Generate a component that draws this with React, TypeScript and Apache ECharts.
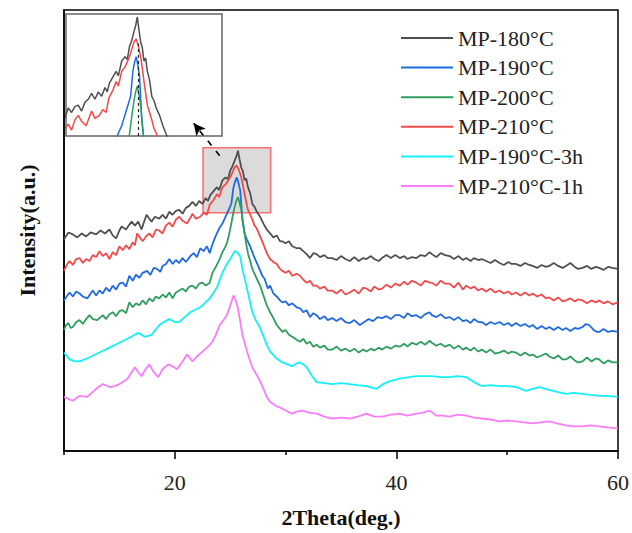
import React, { useEffect, useRef } from "react";
import * as echarts from "echarts";

// 2Theta (deg.) vs intensity (a.u., stacked offsets as drawn)
const mp180: number[][] = [
  [10.0, 215], [10.4, 222], [10.8, 220], [11.2, 217], [11.6, 221], [12.0, 218], [12.4, 222], [12.9, 220], [13.3, 224], [13.7, 221],
  [14.1, 225], [14.4, 219], [14.7, 216], [15.0, 224], [15.2, 228], [15.6, 225], [15.9, 230], [16.1, 233], [16.4, 229], [16.7, 233],
  [17.0, 225], [17.2, 232], [17.45, 240], [17.7, 236], [17.9, 233], [18.2, 238], [18.6, 236], [18.9, 240], [19.2, 236], [19.5, 243],
  [19.8, 240], [20.1, 244], [20.4, 245], [20.7, 241], [21.0, 247], [21.3, 249], [21.6, 253], [21.9, 249], [22.2, 254], [22.5, 251],
  [22.8, 257], [23.0, 254], [23.2, 260], [23.5, 264], [23.8, 268], [24.0, 265], [24.3, 275], [24.6, 278], [24.8, 276], [25.0, 285],
  [25.2, 289], [25.4, 295], [25.55, 299], [25.7, 305], [25.85, 296], [26.0, 288], [26.15, 284], [26.3, 275], [26.45, 277], [26.6, 268],
  [26.8, 262], [27.0, 251], [27.2, 248], [27.4, 243], [27.7, 238], [28.0, 231], [28.3, 225], [28.6, 221], [28.9, 217], [29.2, 219],
  [29.5, 213], [29.7, 213], [30.0, 211], [30.3, 213], [30.6, 208], [31.0, 206], [31.3, 206], [31.6, 203], [31.9, 200], [32.2, 196],
  [32.5, 201], [32.8, 200], [33.1, 197], [33.5, 199], [33.8, 196], [34.2, 196], [34.6, 194], [35.0, 198], [35.4, 195], [35.8, 193],
  [36.2, 197], [36.6, 193], [37.0, 196], [37.3, 195], [37.7, 198], [38.0, 195], [38.4, 193], [38.7, 196], [39.1, 199], [39.5, 196],
  [39.9, 199], [40.3, 196], [40.7, 198], [41.0, 195], [41.4, 197], [41.8, 196], [42.2, 199], [42.6, 198], [43.0, 202], [43.2, 200],
  [43.6, 197], [44.0, 201], [44.4, 199], [44.8, 198], [45.2, 195], [45.6, 198], [46.0, 194], [46.3, 196], [46.7, 193], [47.0, 196],
  [47.4, 194], [47.7, 195], [48.1, 193], [48.5, 191], [48.9, 194], [49.3, 191], [49.7, 189], [50.1, 192], [50.4, 190], [50.8, 190],
  [51.2, 188], [51.6, 191], [52.0, 189], [52.3, 188], [52.7, 186], [53.1, 189], [53.5, 187], [53.8, 188], [54.2, 191], [54.6, 188],
  [55.0, 186], [55.3, 188], [55.7, 191], [56.1, 187], [56.4, 185], [56.8, 186], [57.2, 188], [57.6, 185], [58.0, 187], [58.3, 186],
  [58.7, 184], [59.1, 187], [59.5, 186], [60.0, 185],
];

const mp190: number[][] = [
  [10.0, 153], [10.3, 158], [10.5, 161], [10.8, 157], [11.1, 162], [11.4, 160], [11.7, 157], [12.1, 155], [12.4, 160], [12.6, 163],
  [12.9, 158], [13.2, 163], [13.5, 160], [13.8, 166], [14.1, 162], [14.4, 168], [14.7, 164], [15.0, 170], [15.3, 171], [15.6, 167],
  [15.9, 178], [16.2, 173], [16.5, 179], [16.8, 176], [17.1, 181], [17.5, 183], [17.8, 179], [18.1, 186], [18.4, 185], [18.7, 182],
  [18.9, 188], [19.2, 190], [19.5, 195], [19.8, 190], [20.1, 194], [20.4, 191], [20.7, 196], [21.0, 192], [21.4, 198], [21.7, 201],
  [22.0, 197], [22.3, 206], [22.6, 203], [22.9, 208], [23.15, 201], [23.4, 210], [23.6, 216], [23.8, 221], [24.0, 226], [24.3, 231],
  [24.5, 236], [24.7, 241], [24.9, 246], [25.1, 251], [25.3, 268], [25.45, 274], [25.6, 278], [25.75, 272], [25.9, 265], [26.0, 250],
  [26.1, 235], [26.3, 221], [26.5, 215], [26.8, 208], [27.1, 199], [27.4, 191], [27.6, 186], [27.9, 178], [28.1, 175], [28.4, 165],
  [28.6, 168], [28.9, 160], [29.2, 157], [29.5, 153], [29.7, 151], [30.0, 152], [30.3, 148], [30.6, 150], [31.0, 146], [31.3, 145],
  [31.6, 141], [31.9, 143], [32.2, 136], [32.5, 140], [32.8, 138], [33.1, 134], [33.5, 137], [33.8, 133], [34.2, 135], [34.6, 132],
  [35.0, 135], [35.4, 131], [35.8, 130], [36.2, 133], [36.7, 128], [37.1, 131], [37.5, 134], [37.9, 132], [38.3, 136], [38.7, 135],
  [39.1, 137], [39.5, 134], [39.9, 138], [40.3, 138], [40.7, 135], [41.0, 140], [41.4, 137], [41.8, 138], [42.2, 135], [42.6, 139],
  [43.0, 141], [43.2, 138], [43.6, 136], [44.0, 139], [44.4, 135], [44.8, 136], [45.2, 133], [45.6, 136], [46.0, 132], [46.3, 133],
  [46.7, 130], [47.0, 134], [47.4, 131], [47.7, 131], [48.1, 128], [48.5, 131], [48.9, 129], [49.3, 131], [49.7, 128], [50.1, 130],
  [50.4, 127], [50.8, 130], [51.2, 127], [51.6, 129], [52.0, 126], [52.3, 128], [52.7, 124], [53.1, 127], [53.5, 124], [53.8, 126],
  [54.2, 123], [54.6, 126], [55.0, 123], [55.3, 125], [55.7, 122], [56.1, 125], [56.4, 124], [56.8, 126], [57.1, 129], [57.4, 128],
  [57.8, 123], [58.1, 121], [58.3, 121], [58.7, 124], [59.1, 121], [59.5, 122], [60.0, 121],
];

const mp200: number[][] = [
  [10.0, 123], [10.2, 128], [10.4, 130], [10.6, 125], [10.8, 126], [11.1, 131], [11.4, 133], [11.7, 129], [12.0, 134], [12.3, 138],
  [12.6, 134], [13.0, 133], [13.3, 136], [13.5, 138], [13.8, 134], [14.1, 139], [14.4, 141], [14.7, 137], [15.0, 142], [15.3, 143],
  [15.6, 140], [15.9, 151], [16.2, 146], [16.5, 150], [16.8, 148], [17.1, 153], [17.4, 149], [17.7, 155], [18.0, 152], [18.3, 157],
  [18.6, 155], [18.9, 159], [19.2, 156], [19.5, 161], [19.8, 155], [20.1, 161], [20.4, 163], [20.7, 165], [21.0, 162], [21.3, 167],
  [21.6, 168], [21.9, 165], [22.2, 170], [22.5, 171], [22.8, 168], [23.15, 171], [23.4, 181], [23.7, 187], [24.05, 195], [24.3, 202],
  [24.5, 206], [24.7, 211], [24.9, 220], [25.1, 231], [25.25, 240], [25.4, 248], [25.55, 254], [25.7, 258], [25.85, 252], [26.0, 245],
  [26.15, 232], [26.3, 221], [26.45, 210], [26.6, 201], [26.8, 193], [27.0, 185], [27.2, 180], [27.4, 175], [27.7, 168], [28.0, 158],
  [28.3, 148], [28.6, 141], [28.9, 135], [29.2, 128], [29.5, 124], [29.7, 121], [30.0, 123], [30.3, 118], [30.6, 116], [31.0, 113],
  [31.3, 111], [31.6, 114], [31.9, 109], [32.2, 111], [32.5, 106], [32.8, 108], [33.1, 105], [33.5, 107], [33.8, 103], [34.2, 103],
  [34.6, 106], [35.0, 102], [35.4, 104], [35.8, 101], [36.2, 104], [36.6, 100], [37.0, 103], [37.3, 101], [37.7, 104], [38.0, 102],
  [38.4, 105], [38.7, 103], [39.1, 106], [39.5, 104], [39.9, 107], [40.3, 106], [40.7, 109], [41.0, 106], [41.4, 110], [41.8, 108],
  [42.2, 111], [42.6, 108], [43.0, 112], [43.2, 110], [43.6, 107], [44.0, 109], [44.4, 106], [44.8, 108], [45.2, 104], [45.6, 107],
  [46.0, 103], [46.3, 105], [46.7, 102], [47.0, 105], [47.4, 101], [47.7, 103], [48.1, 100], [48.5, 103], [48.9, 99], [49.3, 100],
  [49.7, 102], [50.1, 99], [50.4, 101], [50.8, 100], [51.2, 97], [51.6, 100], [52.0, 97], [52.3, 98], [52.7, 95], [53.1, 97],
  [53.5, 99], [53.8, 96], [54.2, 94], [54.6, 97], [55.0, 93], [55.3, 93], [55.7, 96], [56.1, 92], [56.4, 90], [56.8, 91],
  [57.2, 95], [57.6, 91], [58.0, 94], [58.3, 93], [58.7, 89], [59.1, 92], [59.5, 90], [60.0, 90],
];

const mp210: number[][] = [
  [10.0, 183], [10.3, 190], [10.5, 193], [10.8, 189], [11.1, 195], [11.4, 196], [11.7, 191], [12.0, 195], [12.3, 193], [12.6, 199],
  [12.9, 197], [13.2, 203], [13.5, 198], [13.8, 201], [14.1, 195], [14.4, 202], [14.7, 199], [15.0, 208], [15.3, 204], [15.6, 209],
  [15.9, 205], [16.2, 212], [16.4, 209], [16.6, 221], [16.9, 216], [17.1, 213], [17.4, 218], [17.7, 221], [18.0, 217], [18.3, 225],
  [18.6, 224], [18.9, 221], [19.2, 229], [19.5, 232], [19.8, 228], [20.1, 235], [20.4, 238], [20.7, 234], [21.1, 231], [21.4, 237],
  [21.6, 241], [21.9, 236], [22.3, 238], [22.6, 242], [22.9, 240], [23.15, 250], [23.5, 255], [23.8, 261], [24.0, 258], [24.3, 268],
  [24.6, 271], [25.0, 278], [25.2, 283], [25.4, 288], [25.6, 290], [25.8, 285], [26.0, 278], [26.15, 270], [26.3, 261], [26.45, 253],
  [26.6, 245], [26.8, 240], [27.0, 235], [27.2, 229], [27.4, 226], [27.7, 218], [28.0, 210], [28.3, 201], [28.6, 195], [28.9, 192],
  [29.2, 190], [29.5, 185], [29.7, 183], [30.0, 181], [30.3, 183], [30.6, 178], [31.0, 180], [31.3, 178], [31.6, 174], [31.9, 171],
  [32.2, 173], [32.5, 168], [32.8, 168], [33.1, 165], [33.5, 167], [33.8, 163], [34.2, 163], [34.6, 160], [35.0, 164], [35.4, 159],
  [35.8, 161], [36.2, 164], [36.6, 160], [37.0, 166], [37.3, 165], [37.7, 162], [38.0, 167], [38.4, 164], [38.7, 165], [39.1, 169],
  [39.5, 166], [39.9, 170], [40.3, 168], [40.7, 172], [41.0, 169], [41.4, 173], [41.8, 171], [42.2, 168], [42.6, 173], [43.0, 171],
  [43.2, 171], [43.6, 168], [44.0, 173], [44.4, 170], [44.8, 170], [45.2, 166], [45.6, 171], [46.0, 164], [46.3, 168], [46.7, 165],
  [47.0, 167], [47.4, 163], [47.7, 165], [48.1, 162], [48.5, 165], [48.9, 161], [49.3, 163], [49.7, 160], [50.1, 162], [50.4, 159],
  [50.8, 161], [51.2, 158], [51.6, 161], [52.0, 158], [52.3, 160], [52.7, 157], [53.1, 159], [53.5, 155], [53.8, 156], [54.2, 153],
  [54.6, 156], [55.0, 152], [55.3, 153], [55.7, 155], [56.1, 152], [56.4, 154], [56.8, 153], [57.2, 150], [57.6, 153], [58.0, 151],
  [58.3, 153], [58.7, 150], [59.1, 152], [59.5, 149], [60.0, 151],
];

const mp190_3h: number[][] = [
  [10.0, 100], [10.5, 93], [11.0, 91], [11.4, 91], [12.3, 95], [13.2, 100], [14.1, 105], [15.0, 110], [15.9, 115], [16.7, 120],
  [17.3, 116], [17.9, 118], [18.6, 128], [19.0, 131], [19.5, 134], [20.0, 131], [20.4, 131], [21.0, 137], [21.4, 141], [22.3, 146],
  [23.15, 155], [23.8, 166], [24.3, 181], [24.7, 190], [25.0, 195], [25.4, 203], [25.6, 202], [25.9, 198], [26.1, 185], [26.4, 171],
  [26.6, 161], [27.0, 141], [27.3, 133], [27.7, 125], [28.3, 108], [28.6, 101], [29.1, 95], [29.7, 90], [30.2, 88], [30.6, 86],
  [31.0, 89], [31.3, 90], [31.6, 88], [31.9, 85], [32.4, 76], [32.8, 70], [33.5, 69], [34.2, 68], [35.0, 69], [35.8, 68],
  [36.5, 67], [37.3, 66], [38.2, 63], [38.8, 68], [39.4, 71], [40.5, 74], [41.8, 76], [43.2, 76], [44.0, 75], [44.8, 75],
  [45.5, 76], [46.3, 75], [47.0, 70], [47.7, 66], [48.5, 67], [49.3, 66], [50.0, 66], [50.8, 65], [51.7, 61], [52.3, 63],
  [52.9, 65], [53.8, 62], [54.5, 60], [55.3, 58], [56.0, 59], [56.8, 58], [57.5, 57], [58.3, 56], [59.0, 56], [60.0, 55],
];

const mp210_1h: number[][] = [
  [10.0, 55], [10.4, 53], [10.8, 51], [11.4, 56], [12.1, 55], [12.6, 60], [13.0, 64], [13.5, 68], [14.1, 65], [14.6, 66],
  [15.0, 68], [15.7, 73], [16.1, 80], [16.4, 85], [16.7, 80], [17.0, 76], [17.3, 82], [17.7, 88], [18.1, 80], [18.5, 75],
  [18.9, 83], [19.4, 88], [19.8, 86], [20.2, 83], [20.7, 91], [21.1, 98], [21.6, 91], [22.0, 96], [22.5, 101], [23.0, 106],
  [23.4, 111], [23.7, 118], [24.05, 128], [24.4, 133], [24.7, 138], [25.1, 151], [25.3, 158], [25.5, 153], [25.7, 145], [25.9, 132],
  [26.1, 118], [26.4, 106], [26.6, 98], [27.0, 85], [27.3, 79], [27.7, 71], [28.0, 63], [28.3, 55], [28.6, 50], [29.1, 46],
  [29.7, 43], [30.2, 40], [30.6, 38], [31.0, 40], [31.5, 41], [32.1, 39], [32.8, 38], [33.5, 35], [34.2, 33], [35.0, 34],
  [35.8, 33], [36.5, 35], [37.3, 38], [38.0, 35], [38.7, 35], [39.5, 37], [40.3, 38], [41.0, 36], [41.8, 38], [42.4, 39],
  [43.0, 41], [43.6, 36], [44.2, 36], [44.8, 35], [45.5, 37], [46.3, 36], [47.0, 34], [47.7, 33], [48.5, 32], [49.3, 30],
  [50.0, 31], [50.8, 30], [51.5, 29], [52.3, 28], [53.0, 29], [53.8, 30], [54.5, 28], [55.3, 26], [56.0, 25], [56.8, 25],
  [57.5, 26], [58.3, 25], [59.0, 24], [60.0, 23],
];

const seriesNames = ["MP-180°C", "MP-190°C", "MP-200°C", "MP-210°C", "MP-190°C-3h", "MP-210°C-1h"];
const seriesData = [mp180, mp190, mp200, mp210, mp190_3h, mp210_1h];
const seriesColors = ["#505050", "#1f6ae0", "#2e9e5e", "#f24a4a", "#14f0f8", "#fb7cf7"];
const majorTicks = [20, 40, 60];
const minorTicks = [10, 30, 50];

// zoom box & inset ranges (data coordinates)
const zoomBox = { x0: 22.55, x1: 28.65, y0: 242, y1: 308 };
const arrowFrom = [24.05, 300];
const arrowTo = [21.7, 333];
const insetRange = { xMin: 19.3, xMax: 33.3, yMin: 224, yMax: 307 };
const insetDashX = 25.8;
const insetDashTop = 287;

const FONT = "'Liberation Serif', 'Times New Roman', serif";

export default function App() {
  const ref = useRef<HTMLDivElement>(null);
  useEffect(() => {
    if (!ref.current) return;
    const chart = echarts.init(ref.current, undefined, { renderer: "svg" });

    const mainSeries = seriesData.map((d, i) => ({
      name: seriesNames[i],
      type: "line",
      xAxisIndex: 0,
      yAxisIndex: 0,
      data: d,
      symbol: "none",
      showSymbol: false,
      lineStyle: { color: seriesColors[i], width: 1.8 },
      itemStyle: { color: seriesColors[i] },
      z: 2,
    }));
    const insetSeries = seriesData.slice(0, 4).map((d, i) => ({
      name: seriesNames[i],
      type: "line",
      xAxisIndex: 1,
      yAxisIndex: 1,
      data: d,
      symbol: "none",
      showSymbol: false,
      clip: true,
      lineStyle: { color: seriesColors[i], width: 1.5 },
      itemStyle: { color: seriesColors[i] },
      z: 2,
    }));

    const option: any = {
      animation: false,
      backgroundColor: "#fff",
      textStyle: { fontFamily: FONT },
      grid: [
        { left: 64, right: 13, top: 10, bottom: 75, show: true, borderColor: "#000", borderWidth: 1.5 },
        { left: 66, top: 14, width: 156, height: 122, show: true, borderColor: "#666", borderWidth: 1.5, backgroundColor: "#fff" },
      ],
      legend: {
        orient: "vertical",
        left: 396,
        top: 22,
        itemWidth: 52,
        itemHeight: 2,
        itemGap: 7.6,
        icon: "rect",
        data: seriesNames,
        textStyle: { fontFamily: FONT, fontSize: 22, color: "#222", lineHeight: 22 },
      },
      xAxis: [
        {
          type: "value",
          gridIndex: 0,
          min: 10,
          max: 60,
          name: "2Theta(deg.)",
          nameLocation: "middle",
          nameGap: 55,
          nameTextStyle: { fontFamily: FONT, fontSize: 22, fontWeight: "bold", color: "#111" },
          axisLine: { show: true, lineStyle: { color: "#000", width: 1.5 } },
          axisTick: { show: true, customValues: majorTicks, length: 8, lineStyle: { color: "#000", width: 1.5 } },
          axisLabel: { show: true, customValues: majorTicks, margin: 20, fontFamily: FONT, fontSize: 22, color: "#222" },
          splitLine: { show: false },
        },
        {
          type: "value",
          gridIndex: 1,
          min: insetRange.xMin,
          max: insetRange.xMax,
          show: false,
        },
        {
          type: "value",
          gridIndex: 0,
          position: "bottom",
          min: 10,
          max: 60,
          axisLine: { show: false },
          axisTick: { show: true, customValues: minorTicks, length: 4, lineStyle: { color: "#000", width: 1.5 } },
          axisLabel: { show: false },
          splitLine: { show: false },
        },
      ],
      yAxis: [
        {
          type: "value",
          gridIndex: 0,
          min: 0,
          max: 448,
          name: "Intensity(a.u.)",
          nameLocation: "middle",
          nameGap: 26,
          nameTextStyle: { fontFamily: FONT, fontSize: 22, fontWeight: "bold", color: "#111" },
          axisLine: { show: true, lineStyle: { color: "#000", width: 1.5 } },
          axisTick: { show: false },
          axisLabel: { show: false },
          splitLine: { show: false },
        },
        {
          type: "value",
          gridIndex: 1,
          min: insetRange.yMin,
          max: insetRange.yMax,
          show: false,
          splitLine: { show: false },
        },
      ],
      series: [
        ...mainSeries,
        ...insetSeries,
        {
          name: "zoomBox",
          type: "line",
          xAxisIndex: 0,
          yAxisIndex: 0,
          data: [],
          silent: true,
          z: 5,
          markArea: {
            silent: true,
            itemStyle: {
              color: "rgba(205,205,205,0.72)",
              borderColor: "rgba(250,90,90,0.85)",
              borderWidth: 1.6,
            },
            data: [[{ coord: [zoomBox.x0, zoomBox.y0] }, { coord: [zoomBox.x1, zoomBox.y1] }]],
          },
          markLine: {
            silent: true,
            symbol: ["none", "arrow"],
            symbolSize: [9, 12],
            label: { show: false },
            lineStyle: { color: "#000", width: 1.6, type: [6, 7] },
            data: [[{ coord: arrowFrom }, { coord: arrowTo }]],
          },
        },
        {
          name: "insetDash",
          type: "line",
          xAxisIndex: 1,
          yAxisIndex: 1,
          data: [],
          silent: true,
          z: 5,
          markLine: {
            silent: true,
            symbol: ["none", "none"],
            label: { show: false },
            lineStyle: { color: "#222", width: 1.2, type: [3, 3] },
            data: [[{ coord: [insetDashX, insetRange.yMin] }, { coord: [insetDashX, insetDashTop] }]],
          },
        },
      ],
    };
    chart.setOption(option);
    return () => chart.dispose();
  }, []);
  return (
    <div
      ref={ref}
      style={{ position: "fixed", left: 0, top: 0, width: 632, height: 533, background: "#fff" }}
    />
  );
}
